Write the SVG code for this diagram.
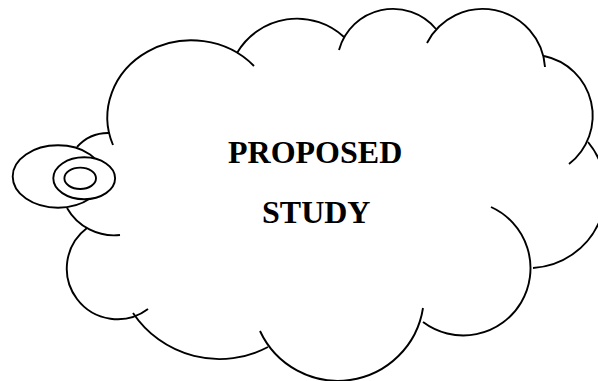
<svg xmlns="http://www.w3.org/2000/svg" width="598" height="381" viewBox="0 0 598 381">
  <style>
    .arc { fill: none; stroke: #000; stroke-width: 1.9; stroke-linecap: butt; }
    .bubble { fill: #fff; stroke: #000; stroke-width: 1.9; }
    .label { font-family: "Liberation Serif", "Times New Roman", serif; font-weight: bold; font-size: 32px; fill: #000; }
  </style>
  <rect width="598" height="381" fill="#fff"/>

  <!-- cloud outline: overlapping arcs, clockwise from the left -->
  <g id="cloud">
    <path class="arc" d="M77,147 A42,42 0 0 1 110,133"/>
    <path class="arc" d="M113,145 A84,77 0 0 1 254,66"/>
    <path class="arc" d="M237,53 A69.5,69.5 0 0 1 344,37"/>
    <path class="arc" d="M339,50 A56,56 0 0 1 436,29"/>
    <path class="arc" d="M427,43 A62.5,62.5 0 0 1 545,67"/>
    <path class="arc" d="M544,56 A61,61 0 0 1 569,164"/>
    <path class="arc" d="M588,142 A77,77 0 0 1 533,268"/>
    <path class="arc" d="M491,207 A67.2,67.2 0 1 1 423,322"/>
    <path class="arc" d="M423,308 A86,86 0 0 1 260,331"/>
    <path class="arc" d="M268,347 A104,104 0 0 1 133,313"/>
    <path class="arc" d="M148,309 A50.7,50.7 0 0 1 87,228"/>
    <path class="arc" d="M120,235 A54,54 0 0 1 67,208"/>
  </g>

  <!-- callout bubbles -->
  <g id="callout">
    <ellipse class="bubble" cx="58" cy="176.5" rx="45.3" ry="31.2"/>
    <ellipse class="bubble" cx="84.2" cy="178.3" rx="30.9" ry="21"/>
    <ellipse class="bubble" cx="80.2" cy="178.3" rx="15.8" ry="10.7"/>
  </g>

  <g id="label">
    <text class="label" x="228" y="163">PROPOSED</text>
    <text class="label" x="262" y="223">STUDY</text>
  </g>
</svg>
